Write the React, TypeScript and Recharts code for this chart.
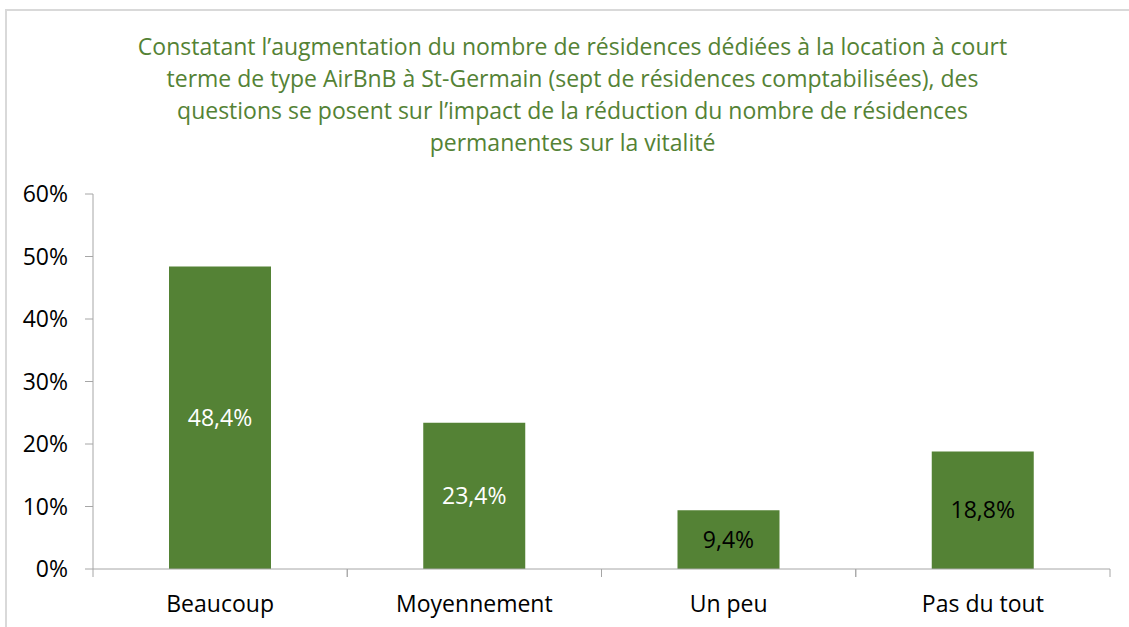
import { BarChart, Bar, XAxis, YAxis, LabelList, Cell } from 'recharts'

const CATEGORIES = ['Beaucoup', 'Moyennement', 'Un peu', 'Pas du tout']
const VALUES = [48.4, 23.4, 9.4, 18.8]
const LABEL_COLORS = ['#ffffff', '#ffffff', '#000000', '#000000']
const Y_TICKS = [0, 10, 20, 30, 40, 50, 60]
const TITLE_LINES = [
  'Constatant l’augmentation du nombre de résidences dédiées à la location à court',
  'terme de type AirBnB à St-Germain (sept de résidences comptabilisées), des',
  'questions se posent sur l’impact de la réduction du nombre de résidences',
  'permanentes sur la vitalité',
]

const W = 1129
const H = 627
const GREEN = '#548235'
const AXIS = '#a6a6a6'
const FONT = '"Open Sans", sans-serif'
const FS = 23
const MARGIN = { top: 194, right: 19, left: 0, bottom: 0 }
const Y_W = 93
const X_H = 58
const BAND = (W - Y_W - MARGIN.right) / CATEGORIES.length

const fmtPct = (v: number) => String(v).replace('.', ',') + '%'

function CatTick(props: any) {
  const { x, y, payload } = props
  return (
    <g>
      <line x1={x - BAND / 2} x2={x - BAND / 2} y1={y} y2={y + 8} stroke={AXIS} />
      <line x1={x + BAND / 2} x2={x + BAND / 2} y1={y} y2={y + 8} stroke={AXIS} />
      <text x={x} y={y + 43} textAnchor="middle" fontSize={FS} fontFamily={FONT} fill="#000">
        {payload.value}
      </text>
    </g>
  )
}

export default function App() {
  const data = CATEGORIES.map((c, i) => ({ cat: c, value: VALUES[i] }))

  return (
    <div style={{ position: 'fixed', left: 0, top: 0, width: W, height: H, background: '#fff', overflow: 'hidden' }}>
      {/* cadre gris clair du graphique */}
      <div style={{ position: 'absolute', left: 5, top: 9, width: W + 20, height: H + 20, border: '2px solid #d9d9d9' }} />
      <div
        style={{
          position: 'absolute', left: 6, top: 30, width: 1133, textAlign: 'center',
          color: GREEN, fontFamily: FONT, fontSize: FS, lineHeight: '32px',
        }}
      >
        {TITLE_LINES.map((l, i) => <div key={i}>{l}</div>)}
      </div>
      <div style={{ position: 'absolute', left: 0, top: 0 }}>
        <BarChart width={W} height={H} data={data} margin={MARGIN}>
          <YAxis
            type="number"
            domain={[0, 60]}
            ticks={Y_TICKS}
            interval={0}
            width={Y_W}
            tickFormatter={(v: number) => `${v}%`}
            tick={{ fontSize: FS, fontFamily: FONT, fill: '#000' }}
            tickSize={8}
            tickMargin={17}
            stroke={AXIS}
            axisLine={{ stroke: AXIS }}
            tickLine={{ stroke: AXIS }}
          />
          <XAxis
            dataKey="cat"
            height={X_H}
            tickSize={0}
            tickMargin={0}
            interval={0}
            axisLine={{ stroke: AXIS }}
            tickLine={false}
            tick={<CatTick />}
          />
          <Bar dataKey="value" barSize={102} fill={GREEN} isAnimationActive={false}>
            {data.map((_, i) => <Cell key={i} fill={GREEN} />)}
            <LabelList
              dataKey="value"
              position="center"
              content={(p: any) => {
                const i = p.index as number
                return (
                  <text
                    x={p.x + p.width / 2}
                    y={p.y + p.height / 2}
                    dy={8}
                    textAnchor="middle"
                    fontSize={FS}
                    fontFamily={FONT}
                    fill={LABEL_COLORS[i]}
                  >
                    {fmtPct(p.value)}
                  </text>
                )
              }}
            />
          </Bar>
        </BarChart>
      </div>
    </div>
  )
}
